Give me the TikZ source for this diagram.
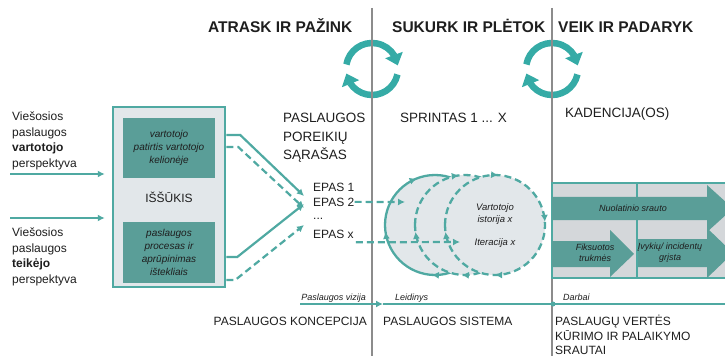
\documentclass[tikz,border=0pt]{standalone}
\usepackage{fontspec}
\setmainfont{Liberation Sans}
\usetikzlibrary{arrows.meta,positioning,bending,decorations.markings}

\definecolor{tealline}{HTML}{4FA9A2}
\definecolor{tealring}{HTML}{35ABA6}
\definecolor{tealbox}{HTML}{5A9E98}
\definecolor{paleback}{HTML}{E2E7EA}
\definecolor{kanbanback}{HTML}{D4D7DA}
\definecolor{divider}{HTML}{8C8C8C}
\definecolor{inktext}{HTML}{1E1E1E}

\newcommand{\fsz}[2]{\fontsize{#1pt}{#2pt}\selectfont}

\begin{document}
\begin{tikzpicture}[
    x=1pt, y=-1pt,
    >={Latex[length=7pt,width=7pt]},
    every node/.style={inner sep=0pt, text=inktext},
    phase/.style={font=\fsz{15.5}{18}\bfseries, anchor=base west},
    heading/.style={font=\fsz{13.5}{18.5}, anchor=base west, align=left},
    plain/.style={font=\fsz{12}{15.5}, anchor=base west, align=left},
    note/.style={font=\fsz{9}{11}\itshape, align=center},
    inbox/.style={
        fill=tealbox, minimum width=92pt,
        font=\fsz{10}{13}\itshape, align=center
    },
    flow/.style={->, tealline, line width=2.2pt},
    dflow/.style={flow, dash pattern=on 7pt off 4pt},
    ring/.style={line width=6.5pt, tealring, -{Triangle[width=18pt,length=11pt]}},
    sprint/.style={fill=paleback, draw=tealline, line width=2.3pt, postaction={decorate}},
    lane/.style={divider, line width=1.6pt}
]
\useasboundingbox (0,0) rectangle (725,358);
\clip (0,0) rectangle (725,358);

% phases on top
\node[phase] (discover) at (208,33) {ATRASK IR PAŽINK};
\node[phase] (build) at (392,33) {SUKURK IR PLĖTOK};
\node[phase] (run) at (558,33) {VEIK IR PADARYK};

\coordinate (loopA) at (372,69);
\coordinate (loopB) at (552,69);
\draw[ring] (loopA) ++(-170:26) arc[start angle=-170, end angle=-8, radius=26];
\draw[ring] (loopA) ++(12:26) arc[start angle=12, end angle=170, radius=26];
\draw[ring] (loopB) ++(-170:26) arc[start angle=-170, end angle=-8, radius=26];
\draw[ring] (loopB) ++(12:26) arc[start angle=12, end angle=170, radius=26];

\draw[lane] (372,8) -- (372,356);
\draw[lane] (552,8) -- (552,356);

% perspectives and challenge
\node[plain, anchor=north west] (userview) at (12,112)
    {Viešosios\\paslaugos\\\textbf{vartotojo}\\perspektyva};
\node[plain, anchor=north west] (providerview) at (12,228)
    {Viešosios\\paslaugos\\\textbf{teikėjo}\\perspektyva};

\node[draw=tealline, line width=2.5pt, fill=paleback,
      minimum width=112pt, minimum height=180pt, font=\fsz{12}{14}] (chal) at (169,197) {IŠŠŪKIS};
\node[inbox, minimum height=60pt] (journey) at (169,148)
    {vartotojo\\patirtis vartotojo\\kelionėje};
\node[inbox, minimum height=61pt] (process) at (169,252.5)
    {paslaugos\\procesas ir\\aprūpinimas\\ištekliais};

\coordinate (userin) at (10,174);
\coordinate (providerin) at (10,218);
\draw[flow] (userin) -- ([xshift=-7pt]chal.west |- userin);
\draw[flow] (providerin) -- ([xshift=-7pt]chal.west |- providerin);

% backlog
\node[heading, anchor=north west] (backlog) at (283,113)
    {PASLAUGOS\\POREIKIŲ\\SĄRAŠAS};
\node[plain] (epasA) at (313,192) {EPAS 1};
\node[plain] (epasB) at (313,206) {EPAS 2};
\node[plain] (epasDots) at (313,219) {...};
\node[plain] (epasX) at (313,238) {EPAS x};

\coordinate (inA) at (304,196);
\coordinate (inB) at (304,208);
\coordinate (inC) at (304,204);
\coordinate (inD) at (304,225);
\draw[flow] (chal.east |- 0,135) -- ++(14,0) -- (inA);
\draw[dflow] (chal.east |- 0,147) -- ++(12,0) -- (inB);
\draw[flow] (chal.east |- 0,257) -- ++(11,0) -- (inC);
\draw[dflow] (chal.east |- 0,280) -- ++(9,0) -- (inD);

% sprints
\node[heading] (sprints) at (400,123) {SPRINTAS 1 ... X};
\coordinate (sprA) at (435,225);
\coordinate (sprB) at (465,225);
\coordinate (sprC) at (495,225);
\path[sprint, decoration={markings,
      mark=at position .19 with {\arrow{>}},
      mark=at position .76 with {\arrow{>}},
      mark=at position .978 with {\arrow{>}}}]
    (sprA) ++(180:50) arc[start angle=180, end angle=540, radius=50];
\path[sprint, dash pattern=on 7pt off 4pt, decoration={markings,
      mark=at position .23 with {\arrow{>}},
      mark=at position .76 with {\arrow{>}},
      mark=at position .978 with {\arrow{>}}}]
    (sprB) ++(180:50) arc[start angle=180, end angle=540, radius=50];
\path[sprint, dash pattern=on 7pt off 4pt, decoration={markings,
      mark=at position .26 with {\arrow{>}},
      mark=at position .49 with {\arrow{>}},
      mark=at position .75 with {\arrow{>}},
      mark=at position .978 with {\arrow{>}}}]
    (sprC) ++(180:50) arc[start angle=180, end angle=540, radius=50];

\coordinate (sprIn) at (405,202);
\coordinate (sprX) at (460,242);
\draw[dflow] (epasB.east) -- (sprIn);
\draw[dflow] ([shift={(2,4)}]epasX.south east) -- (sprX);

\node[note, font=\fsz{9.5}{11.5}\itshape] (story) at (495,214) {Vartotojo\\istorija x};
\node[note, font=\fsz{9.5}{11.5}\itshape] (iter) at (495,243) {Iteracija x};

% cadences
\node[heading] (cadence) at (565,118) {KADENCIJA(OS)};
\draw[tealline, line width=2pt, fill=kanbanback] (552,183) rectangle (745,278);
\draw[tealline, line width=1.5pt] (637,183) -- (637,278);
\fill[tealbox] (552,197) -- (707,197) -- (707,185) -- (733,208.5)
    -- (707,232) -- (707,220) -- (552,220) -- cycle;
\fill[tealbox] (552,241) -- (610,241) -- (610,230) -- (634,254)
    -- (610,277) -- (610,267) -- (552,267) -- cycle;
\fill[tealbox] (638,239) -- (707,239) -- (707,228) -- (733,253)
    -- (707,278) -- (707,267) -- (638,267) -- cycle;
\node[note] (steady) at (633,208) {Nuolatinio srauto};
\node[note] (fixed) at (595,253) {Fiksuotos\\trukmės};
\node[note] (events) at (670,253) {Įvykių/ incidentų\\grįsta};

% timeline
\coordinate (tlStart) at (300,304);
\coordinate (tlTip) at (383,304);
\coordinate (tlEnd) at (725,304);
\draw[flow] (tlStart) -- (tlTip);
\draw[tealline, line width=2pt] (tlTip) -- (tlEnd);
\fill[tealline] (553,304) circle (2.5);
\node[note, anchor=base east] (vision) at (366,300) {Paslaugos vizija};
\node[note, anchor=base west] (release) at (395,300) {Leidinys};
\node[note, anchor=base west] (works) at (563,300) {Darbai};

\node[plain, anchor=base east] (concept) at (367,325) {PASLAUGOS KONCEPCIJA};
\node[plain] (system) at (383,325) {PASLAUGOS SISTEMA};
\node[plain, anchor=north west, font=\fsz{12}{14.5}] (streams) at (555,315)
    {PASLAUGŲ VERTĖS\\KŪRIMO IR PALAIKYMO\\SRAUTAI};
\end{tikzpicture}
\end{document}
